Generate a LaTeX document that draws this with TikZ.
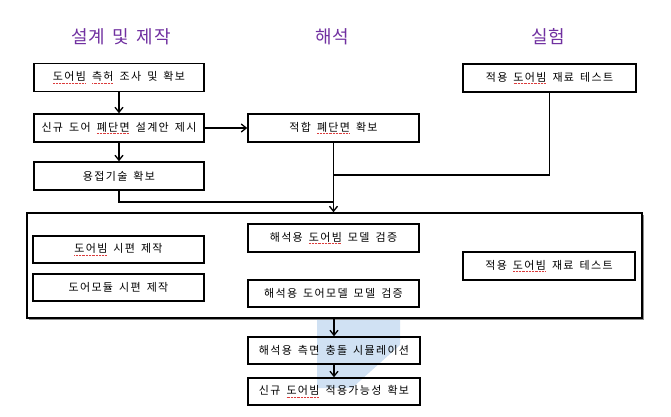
\documentclass[tikz,border=0pt]{standalone}
\usepackage{fontspec}
\usetikzlibrary{arrows.meta}
\newfontfamily\kr{Noto Sans CJK KR}[LetterSpace=12,WordSpace=1.6]
\newfontfamily\krt{Noto Sans CJK KR}[LetterSpace=4,WordSpace=1.6]
\definecolor{ttl}{HTML}{7030A0}
\definecolor{sqred}{RGB}{220,60,60}
\definecolor{wm}{RGB}{196,218,240}
\newcommand\sq[1]{\leavevmode\setbox0\hbox{#1}\rlap{\raisebox{-2.6pt}{\color{sqred}\hbox to\wd0{\xleaders\hbox{\rule{0.7pt}{0.5pt}\hskip0.7pt}\hfill}}}\box0\relax}
\begin{document}
\begin{tikzpicture}[x=1pt,y=-1pt,
  box/.style={draw=black,line width=1.5pt,rectangle,inner sep=0pt,
    minimum width=171pt,minimum height=28pt,font=\kr\fontsize{11}{13}\selectfont},
  ttlnode/.style={text=ttl,font=\krt\fontsize{18}{20}\selectfont,inner sep=0pt},
  conn/.style={draw=black,line width=1.3pt},
  arr/.style={conn,-{Straight Barb[length=5pt,width=8pt,line width=1.3pt]}}]
\useasboundingbox (0,0) rectangle (671,416);
% watermark
\fill[wm,opacity=0.8] (317,305) -- (400,312) -- (400,345) -- (352,388) -- (317,388) -- cycle;
% titles
\node[ttlnode] (t1) at (121,37) {설계 및 제작};
\node[ttlnode] (t2) at (332,37) {해석};
\node[ttlnode] (t3) at (548,37) {실험};
% top boxes
\node[box,minimum width=170pt] (b1) at (119,77.5) {\sq{도어빔} \sq{측허} 조사 및 확보};
\node[box,minimum width=170pt] (b2) at (119,128) {신규 도어 \sq{폐단면} 설계안 제시};
\node[box,minimum width=170pt] (b3) at (119,176) {용접기술 확보};
\node[box] (b4) at (333.5,128) {적합 \sq{폐단면} 확보};
\node[box,minimum width=173pt] (b5) at (549.5,78) {적용 \sq{도어빔} 재료 테스트};
% big box
\fill[black!45] (29,215) rectangle (644,320);
\node[box,fill=white,minimum width=615pt,minimum height=105pt] (big) at (334.5,265.5) {};
\node[box,minimum height=27pt] (i1) at (118.5,249.5) {\sq{도어빔} 시편 제작};
\node[box,minimum height=27pt] (i2) at (118.5,287.5) {도어모듈 시편 제작};
\node[box] (i3) at (333.5,238) {해석용 \sq{도어빔} 모델 검증};
\node[box,minimum height=27pt] (i4) at (333.5,293.5) {해석용 도어모델 모델 검증};
\node[box,minimum width=172pt] (i5) at (549,266) {적용 \sq{도어빔} 재료 테스트};
% bottom boxes
\node[box,minimum width=172pt,minimum height=27pt] (s1) at (334,350.5) {해석용 측면 충돌 시뮬레이션};
\node[box,minimum width=172pt,minimum height=27pt] (s2) at (334,391.5) {신규 \sq{도어빔} 적용가능성 확보};
% connector joints
\coordinate (j1) at (b3.south |- 0,202);
\coordinate (j2) at (b4.south |- 0,202);
\coordinate (j3) at (b5.south |- 0,175);
\coordinate (j4) at (b4.south |- 0,175);
% connectors
\draw[arr] (b1) -- (b2);
\draw[arr] (b2) -- (b3);
\draw[arr] (b2) -- (b4);
\draw[conn] (b3.south) -- (j1) -- (j2);
\draw[conn] (b5.south) -- (j3) -- (j4);
\draw[arr] (b4.south) -- (b4.south |- big.north);
\draw[arr] (big.south -| s1.north) -- (s1.north);
\draw[arr] (s1) -- (s2);
\end{tikzpicture}
\end{document}
